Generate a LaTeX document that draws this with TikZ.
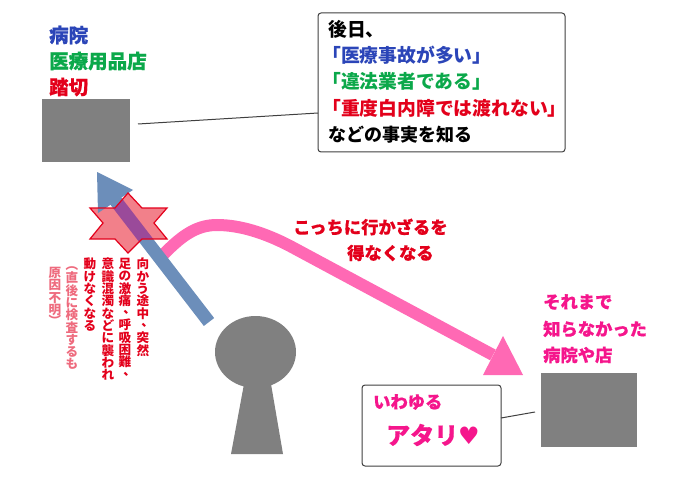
\documentclass[tikz,border=0pt]{standalone}
\usepackage{fontspec}
\usepackage{graphicx}
\setmainfont{Noto Sans CJK JP}
\newfontfamily\heavy[BoldFeatures={FakeBold=0.5}]{Noto Sans CJK JP}
\newfontfamily\heartfont{DejaVu Sans}
\definecolor{jblue}{HTML}{2B45B8}
\definecolor{jgreen}{HTML}{0BA84A}
\definecolor{jred}{HTML}{E3001B}
\definecolor{jpink}{HTML}{F5168C}
\definecolor{jsoft}{HTML}{EE6B7E}
\definecolor{curvepink}{HTML}{FF69B4}
\definecolor{steel}{HTML}{6C8EBA}
\definecolor{starfill}{HTML}{F2808A}
\definecolor{overlap}{HTML}{9A4A9A}
\definecolor{boxedge}{HTML}{404040}
\newdimen\cellsz \cellsz=12.3pt
\def\vcell#1{\hbox to 14pt{\hss#1\hss}}
\def\vstackloop#1{\ifx#1\relax\else\vcell{#1}\expandafter\vstackloop\fi}
\def\vstack#1{\vbox{\baselineskip=\cellsz\lineskiplimit=-30pt\vstackloop#1\relax}}
\def\vcomma{\kern.38em\raisebox{.3em}{\hbox to 0pt{、\hss}}\kern.62em}
\def\vopen{\raisebox{.1em}{\rotatebox[origin=c]{-90}{（}}}
\def\vclose{\raisebox{.1em}{\rotatebox[origin=c]{-90}{）}}}
\tikzset{
  graybox/.style={fill=gray,draw=none,inner sep=0pt,outer sep=0pt},
  callout/.style={draw=boxedge,line width=1pt,fill=white,rounded corners=3pt,inner sep=0pt,outer sep=0pt},
  lead/.style={draw=boxedge,line width=1pt},
  head/.style={font=\heavy\fontsize{19.5}{20}\selectfont\bfseries,anchor=west,inner sep=0pt},
  body/.style={font=\fontsize{#1}{20}\selectfont\bfseries,anchor=west,inner sep=0pt},
  hint/.style={font=\heavy\fontsize{17.3}{18}\selectfont\bfseries,anchor=west,inner sep=0pt},
  vert/.style={font=\fontsize{12.6}{13}\selectfont\bfseries,anchor=north,inner sep=0pt},
}
\begin{document}
\begin{tikzpicture}[x=1pt,y=-1pt]
\useasboundingbox (0,0) rectangle (692,481);
% gray boxes
\node[graybox,minimum width=88pt,minimum height=63pt] (place) at (86,130.5) {};
\node[graybox,minimum width=96pt,minimum height=74pt] (newplace) at (589,410) {};
% callouts
\node[callout,minimum width=247pt,minimum height=139pt] (later) at (441.5,82.5) {};
\node[callout,minimum width=139pt,minimum height=81pt] (atari) at (431.5,425.5) {};
% leaders
\coordinate (placeR) at (138,124);
\coordinate (laterL) at (318,113);
\coordinate (atariR) at (501,418);
\coordinate (newL) at (535,412);
\draw[lead] (placeR) -- (laterL);
\draw[lead] (atariR) -- (newL);
% top-left labels
\node[head,text=jblue] (l1) at (49,35) {病院};
\node[head,text=jgreen] (l2) at (49,61) {医療用品店};
\node[head,text=jred] (l3) at (49,87) {踏切};
% callout text
\node[body=18.8,text=black] (t1) at (328,29) {後日、};
\node[body=18.8,text=jblue] (t2) at (322,55) {「医療事故が多い」};
\node[body=18.8,text=jgreen] (t3) at (322,81) {「違法業者である」};
\node[body=18.8,text=jred] (t4) at (322,108) {「重度白内障では渡れない」};
\node[body=18,text=black] (t5) at (328,135) {などの事実を知る};
% pink curve
\coordinate (cStart) at (163,255);
\coordinate (cPeak) at (217,225);
\coordinate (cBend) at (290,246);
\coordinate (cEnd) at (493,355);
\coordinate (tipA) at (503,336);
\coordinate (tipB) at (523,375);
\coordinate (tipC) at (483,375);
\draw[curvepink,line width=12pt] (cStart) .. controls (183,234) and (198,225) .. (cPeak) .. controls (240,225) and (265,233) .. (cBend) -- (cEnd);
\fill[curvepink] (tipA) -- (tipB) -- (tipC) -- cycle;
% blue arrow
\coordinate (sStart) at (209,322);
\coordinate (sEnd) at (115,200);
\coordinate (hA) at (97,172);
\coordinate (hB) at (133,190);
\coordinate (hC) at (98,213);
\draw[steel,line width=13pt] (sStart) -- (sEnd);
\fill[steel] (hA) -- (hB) -- (hC) -- cycle;
% star
\def\starpath{(128,193) -- (142,208) -- (167,208) -- (154,223) -- (167,239) -- (142,239) -- (128,253)
 -- (115,239) -- (90,239) -- (103,223) -- (90,208) -- (115,208) -- cycle}
\fill[starfill] \starpath;
\begin{scope}
\clip \starpath;
\fill[steel] (hA) -- (hB) -- (hC) -- cycle;
\draw[overlap,line width=13pt] (sStart) -- (sEnd);
\end{scope}
\draw[draw=jred,line width=1.2pt,line join=miter] \starpath;
% keyhole figure
\fill[gray] (255.5,352) ellipse [x radius=40.5,y radius=36];
\fill[gray] (244,384) -- (271,384) -- (283,454) -- (231,454) -- cycle;
% vertical text
\node[vert,text=jred] (v1) at (143,258) {\vstack{向かう途中\vcomma 突然}};
\node[vert,text=jred] (v2) at (125,258) {\vstack{足の激痛\vcomma 呼吸困難\vcomma}};
\node[vert,text=jred] (v3) at (108,258) {\vstack{意識混濁などに襲われ}};
\node[vert,text=jred] (v4) at (90,258) {\vstack{動けなくなる}};
\node[vert,text=jsoft] (v5) at (72,258) {\vstack{\vopen 直後に検査するも}};
\node[vert,text=jsoft] (v6) at (55,267) {\vstack{原因不明\vclose}};
% other text
\node[hint,text=jred] (c1) at (293,227) {こっちに行かざるを};
\node[hint,text=jred] (c2) at (347,253) {得なくなる};
\node[hint,text=jpink] (n1) at (543,302) {それまで};
\node[hint,text=jpink] (n2) at (543,329) {知らなかった};
\node[hint,text=jpink] (n3) at (543,355) {病院や店};
\node[hint,text=jpink] (a1) at (373,402) {いわゆる};
\node[anchor=west,inner sep=0pt,text=jpink,font=\heavy\fontsize{24}{25}\selectfont\bfseries] (a2) at (386,435) {アタリ{\heartfont ♥}};
\end{tikzpicture}
\end{document}
